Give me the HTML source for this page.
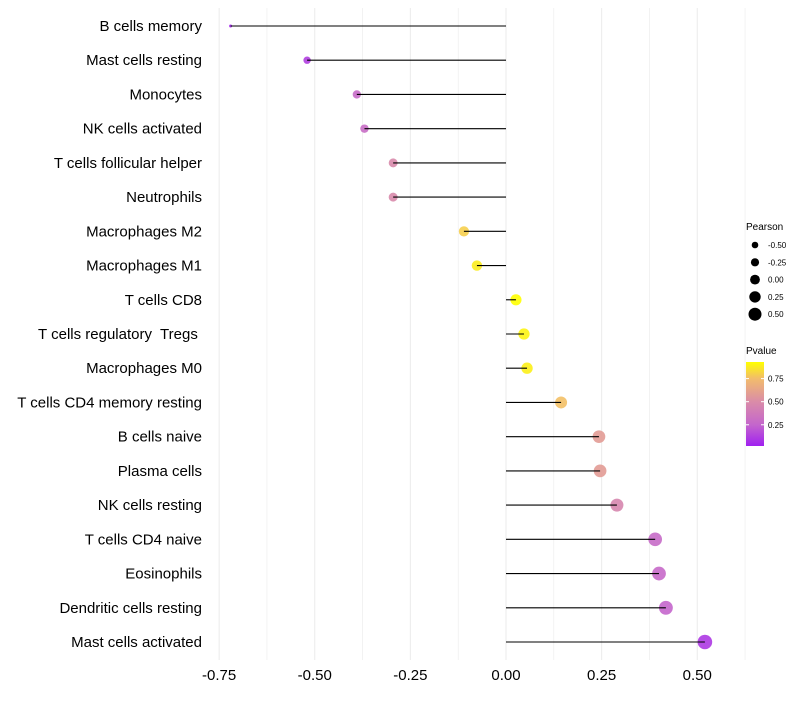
<!DOCTYPE html>
<html><head><meta charset="utf-8"><style>
body{margin:0;background:#fff;font-family:"Liberation Sans",sans-serif}
text{white-space:pre}
</style></head><body>
<svg id="c" width="800" height="700" xmlns="http://www.w3.org/2000/svg"></svg>
<script>
const categories=["B cells memory","Mast cells resting","Monocytes","NK cells activated","T cells follicular helper","Neutrophils","Macrophages M2","Macrophages M1","T cells CD8","T cells regulatory  Tregs ","Macrophages M0","T cells CD4 memory resting","B cells naive","Plasma cells","NK cells resting","T cells CD4 naive","Eosinophils","Dendritic cells resting","Mast cells activated"];
const pearson=[-0.72,-0.52,-0.39,-0.37,-0.295,-0.295,-0.11,-0.076,0.026,0.047,0.055,0.144,0.243,0.246,0.29,0.39,0.40,0.418,0.52];
const pvalue=[0.04,0.12,0.28,0.30,0.48,0.48,0.80,0.88,0.93,0.90,0.89,0.76,0.58,0.58,0.46,0.28,0.27,0.25,0.10];
const xTicks=[-0.75,-0.5,-0.25,0,0.25,0.5];
const xTickLabels=["-0.75","-0.50","-0.25","0.00","0.25","0.50"];
const sizeLegend=[-0.5,-0.25,0,0.25,0.5];
const sizeLegendLabels=["-0.50","-0.25","0.00","0.25","0.50"];
const pLegend=[0.75,0.5,0.25];
const pLegendLabels=["0.75","0.50","0.25"];

const svg=document.getElementById('c');const NS="http://www.w3.org/2000/svg";
function el(t,a,p){const e=document.createElementNS(NS,t);for(const k in a)e.setAttribute(k,a[k]);(p||svg).appendChild(e);return e;}
const x=v=>506+v*382.5;
const y=i=>26+i*(616/18);
const r=v=>v>=-0.52?3.7+3.46*(v+0.52):Math.max(1.5,3.7-(-0.52-v)*11);
function hex(h){return [1,3,5].map(i=>parseInt(h.substr(i,2),16));}
const stops=[[0.02,hex("#A020F0")],[0.25,hex("#C466CC")],[0.5,hex("#DA8CA8")],[0.75,hex("#F2BC6C")],[0.93,hex("#FFFF00")]];
function col(p){p=Math.max(0.02,Math.min(0.93,p));
 for(let i=0;i<stops.length-1;i++){const[a,ca]=stops[i],[b,cb]=stops[i+1];if(p<=b){const u=(p-a)/(b-a);return "rgb("+ca.map((c,j)=>Math.round(c+(cb[j]-c)*u)).join(",")+")";}}}
for(let v=-0.75;v<=0.625;v+=0.125){const g=el('line',{x1:x(v),x2:x(v),y1:8,y2:660,stroke:'#ebebeb','stroke-width':Math.abs((v*4)%1)<1e-6?1:0.6});
}
xTicks.forEach((v,i)=>{const t=el('text',{x:x(v),y:680,'text-anchor':'middle','font-size':15,fill:'#000'});t.textContent=xTickLabels[i];
});
categories.forEach((c,i)=>{
 const t=el('text',{x:202,y:y(i)+5,'text-anchor':'end','font-size':15,fill:'#000'});t.textContent=c;
 
 const d=el('circle',{cx:x(pearson[i]),cy:y(i),r:r(pearson[i]),fill:col(pvalue[i]),'fill-opacity':0.9});
 
 const l=el('line',{x1:x(0),x2:x(pearson[i]),y1:y(i),y2:y(i),stroke:'#000','stroke-width':1.1});
 
});
let t=el('text',{x:746,y:230,'font-size':10});t.textContent="Pearson";

sizeLegend.forEach((v,i)=>{const cy=245+i*17.3;
 const c=el('circle',{cx:755,cy:cy,r:3.3+i*0.8,fill:'#000'});
 const tt=el('text',{x:768,y:cy+3,'font-size':8});tt.textContent=sizeLegendLabels[i];
 });
t=el('text',{x:746,y:354,'font-size':10});t.textContent="Pvalue";

const defs=el('defs',{});const lg=el('linearGradient',{id:'g',x1:0,y1:1,x2:0,y2:0},defs);
stops.forEach(s=>el('stop',{offset:(s[0]-0.02)/0.91,'stop-color':'rgb('+s[1].join(',')+')'},lg));
const bar=el('rect',{x:746,y:362,width:18,height:84,fill:'url(#g)'});

const py=p=>446-(p-0.02)/(0.93-0.02)*84;
pLegend.forEach((p,i)=>{el('line',{x1:746,x2:749,y1:py(p),y2:py(p),stroke:'#fff'});el('line',{x1:761,x2:764,y1:py(p),y2:py(p),stroke:'#fff'});
 const tt=el('text',{x:768,y:py(p)+3,'font-size':8});tt.textContent=pLegendLabels[i];
 });
</script>
</body></html>
